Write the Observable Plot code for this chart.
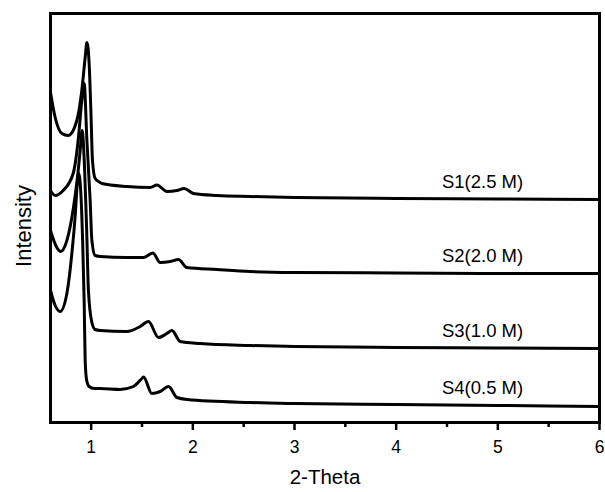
<!DOCTYPE html>
<html>
<head>
<meta charset="utf-8">
<script src="https://cdn.jsdelivr.net/npm/d3@7"></script>
<script src="https://cdn.jsdelivr.net/npm/@observablehq/plot@0.6"></script>
<style>
  html, body { margin: 0; padding: 0; background: #fff; }
  svg { display: block; }
</style>
</head>
<body>
<div id="chart"></div>
<script>
// 2-Theta values and intensities (arbitrary units, offset stacked)
const s1X = [0.6, 0.646, 0.712, 0.774, 0.859, 0.908, 0.941, 0.958, 0.98, 0.997, 1.013, 1.039, 1.089, 1.105, 1.351, 1.581, 1.647, 1.745, 1.843, 1.915, 2.007, 2.237, 2.565, 3, 4, 5, 6];
const s1Y = [330, 305, 289, 287, 302, 332, 365, 380, 359, 312, 262, 244, 240, 239, 236, 235, 237.5, 231, 232, 234, 229, 227, 226, 225, 224, 223.5, 223];

const s2X = [0.6, 0.646, 0.724, 0.823, 0.872, 0.908, 0.931, 0.958, 0.99, 1.007, 1.039, 1.089, 1.351, 1.515, 1.607, 1.679, 1.778, 1.859, 1.942, 2.237, 2.565, 3, 4, 5, 6];
const s2Y = [232, 227, 232, 249, 282, 322, 339, 282, 222, 182, 167, 166, 165, 165, 169.5, 160, 161, 163, 155, 153, 151, 150, 149.5, 149, 149];

const s3X = [0.6, 0.662, 0.702, 0.761, 0.826, 0.865, 0.892, 0.911, 0.936, 0.956, 0.973, 1.007, 1.039, 1.089, 1.351, 1.482, 1.564, 1.662, 1.745, 1.794, 1.876, 2.073, 2.565, 3, 4, 5, 6];
const s3Y = [192, 175, 171, 182, 215, 245, 272, 292, 252, 192, 132, 100, 93, 92, 91, 96, 101, 85, 89, 92, 81, 79, 77, 76, 75, 74.5, 74];

const s4X = [0.6, 0.646, 0.695, 0.761, 0.81, 0.843, 0.862, 0.877, 0.897, 0.916, 0.931, 0.941, 0.956, 0.98, 1.03, 1.089, 1.285, 1.416, 1.499, 1.515, 1.597, 1.679, 1.761, 1.843, 1.942, 2.565, 3, 4, 5, 6];
const s4Y = [132, 117, 111, 129, 169, 207, 237, 249, 232, 182, 122, 62, 42, 36, 34, 34, 33, 36, 44, 45.5, 29, 31, 36, 25, 23, 20, 19, 18, 17, 16];

const seriesNames = ["S1(2.5 M)", "S2(2.0 M)", "S3(1.0 M)", "S4(0.5 M)"];
const xTicks = [1, 2, 3, 4, 5, 6];
const xMinorTicks = [1.5, 2.5, 3.5, 4.5, 5.5];

const allX = [s1X, s2X, s3X, s4X];
const allY = [s1Y, s2Y, s3Y, s4Y];
const data = [];
allX.forEach((xs, i) => xs.forEach((x, j) => data.push({series: seriesNames[i], x, y: allY[i][j]})));

// labels sit just above each trace near x = 5
const labels = seriesNames.map((name, i) => {
  const idx = allX[i].indexOf(5);
  return {name, x: 4.85, y: allY[i][idx]};
});

const font = "'Liberation Sans', Arial, Helvetica, sans-serif";

const chart = Plot.plot({
  width: 605,
  height: 492,
  marginLeft: 50,
  marginRight: 6,
  marginTop: 13,
  marginBottom: 70,
  style: {fontFamily: font, background: "#fff", color: "#000"},
  x: {domain: [0.6, 6]},
  y: {domain: [0, 409], axis: null},
  marks: [
    Plot.line(data, {x: "x", y: "y", z: "series", curve: "monotone-x", stroke: "#000", strokeWidth: 3, strokeLinejoin: "round"}),
    Plot.frame({stroke: "#000", strokeWidth: 3}),
    Plot.axisX({ticks: xTicks, tickSize: 8, tickPadding: 10, tickFormat: d3.format("d"), fontSize: 17.5, strokeWidth: 2.5, label: null}),
    Plot.axisX({ticks: xMinorTicks, tickSize: 5, text: null, strokeWidth: 2.5, label: null}),
    Plot.text(["2-Theta"], {frameAnchor: "bottom", dy: 61, fontSize: 20.5, fill: "#000"}),
    Plot.text(["Intensity"], {frameAnchor: "left", textAnchor: "middle", rotate: -90, dx: -27, dy: 8, fontSize: 22, fill: "#000"}),
    Plot.text(labels, {x: "x", y: "y", text: "name", dy: -17, fontSize: 18.5, fill: "#000"})
  ]
});

document.getElementById("chart").appendChild(chart);
</script>
</body>
</html>
